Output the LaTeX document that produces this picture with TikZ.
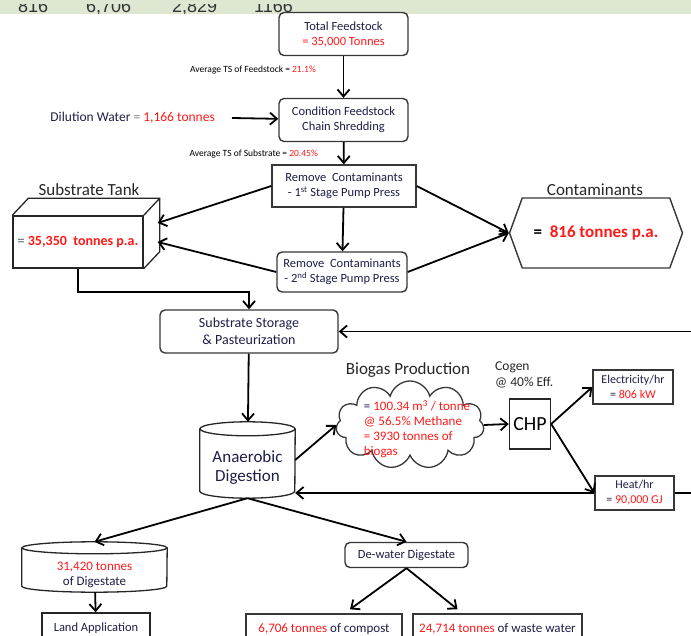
\documentclass[tikz,border=0pt]{standalone}
\usepackage{fontspec}
\setmainfont{Carlito}
\newfontfamily\cifras{Liberation Sans}
\usetikzlibrary{positioning,arrows.meta,shapes.geometric,shapes.symbols,calc}
\definecolor{rojo}{RGB}{255,25,25}
\definecolor{tinta}{RGB}{30,30,70}
\definecolor{borde}{RGB}{55,55,55}
\definecolor{franja}{RGB}{222,231,210}

\begin{document}
\begin{tikzpicture}[x=1pt, y=-1pt,
  caja/.style={draw=borde, line width=1.4pt, rounded corners=5pt, fill=white,
    align=center, text=tinta, inner sep=0pt,
    font=\fontsize{12.5}{15}\selectfont},
  cajarecta/.style={caja, rounded corners=0pt},
  titulo/.style={font=\fontsize{17}{20}\selectfont, text=black!85},
  nota/.style={font=\fontsize{9.5}{11}\selectfont, text=black, anchor=east,
    inner sep=0pt},
  cil/.style={draw=black!85, line width=1.3pt},
  flecha/.style={line width=1.8pt,
    -{Straight Barb[length=7pt, width=12pt, line width=1.8pt]}},
]
  \useasboundingbox (0,0) rectangle (691,636);
  \clip (0,0) rectangle (691,636);
  % Franja superior
  \fill[franja] (0,0) rectangle (691,14);
  \begin{scope}
    \clip (0,4.5) rectangle (691,14);
    \foreach \x/\cifra in {18/816, 86/{6,706}, 172/{2,829}, 254/1166}
      \node[anchor=base west, inner sep=0pt, text=black!80,
        font=\cifras\fontsize{18}{18}\selectfont] (c\x) at (\x,13) {\cifra};
  \end{scope}
  % Alimentacion
  \node[caja, minimum width=129, minimum height=43] (total) at (343.5,34)
    {Total Feedstock\\\textcolor{rojo}{= 35,000 Tonnes}};
  \node[caja, minimum width=129, minimum height=43] (condicion) at (343.5,120)
    {Condition Feedstock\\Chain Shredding};
  \node[nota] (tsalim) at (316,70)
    {Average TS of Feedstock = \textcolor{rojo}{21.1\%}};
  \node[nota] (tssust) at (318,154)
    {Average TS of Substrate = \textcolor{rojo}{20.45\%}};
  \node[anchor=east, inner sep=0pt, text=tinta,
    font=\fontsize{13.5}{16}\selectfont] (dilucion) at (215,118)
    {Dilution Water \textcolor{gray}{=} \textcolor{rojo}{1,166 tonnes}};
  % Separacion de contaminantes
  \node[cajarecta, minimum width=144, minimum height=42] (quitar1) at (344,186)
    {Remove\ \ Contaminants\\- 1\textsuperscript{st} Stage Pump Press};
  \node[caja, minimum width=130, minimum height=40] (quitar2) at (342,272)
    {Remove\ \ Contaminants\\- 2\textsuperscript{nd} Stage Pump Press};
  % Tanque de sustrato
  \node[cajarecta, draw=black!85, text=rojo, minimum width=130,
    minimum height=52, font=\bfseries\fontsize{14}{16}\selectfont]
    (tanque) at (78,242) {\textcolor{gray}{=} 35,350\ \ tonnes p.a.};
  \draw[cil] (tanque.north west) -- ++(16pt,17pt)
    -- ($(tanque.north east)+(16pt,17pt)$)
    -- ($(tanque.south east)+(16pt,17pt)$) -- (tanque.south east);
  \draw[cil] (tanque.north east) -- ++(16pt,17pt);
  \coordinate (lado1) at ([shift={(14pt,19pt)}]tanque.east);
  \coordinate (lado2) at ([shift={(14pt,0pt)}]tanque.east);
  \node[titulo] (tittanque) at (89,190) {Substrate Tank};
  % Contaminantes
  \node[signal, signal to=west and east, signal pointer angle=140,
    draw=borde, line width=1.4pt, minimum width=173, minimum height=70,
    inner sep=0pt, font=\bfseries\fontsize{17}{20}\selectfont]
    (contam) at (596,233) {=\ \ \textcolor{rojo}{816 tonnes p.a.}};
  \node[titulo] (titcontam) at (595,190) {Contaminants};
  % Almacenamiento y digestion
  \node[caja, minimum width=178, minimum height=43,
    font=\fontsize{14}{17}\selectfont] (almacen) at (249,331.5)
    {Substrate Storage\\\& Pasteurization};
  \node[align=center, text=tinta, inner sep=0pt, minimum width=95,
    minimum height=76, font=\fontsize{17}{19}\selectfont]
    (digestor) at (247.5,460) {\rule{0pt}{26pt}Anaerobic\\Digestion};
  \draw[cil] ([yshift=-7pt]digestor.north) ellipse [x radius=47.5pt, y radius=7pt];
  \draw[cil] ([yshift=-7pt]digestor.north west)
    -- ([yshift=7pt]digestor.south west)
    arc [start angle=180, end angle=360, x radius=47.5pt, y radius=7pt]
    -- ([yshift=-7pt]digestor.north east);
  % Biogas y cogeneracion
  \node[cloud, cloud puffs=11, cloud ignores aspect, draw=borde,
    line width=1.3pt, minimum width=148, minimum height=88] (nube) at (410,425) {};
  \node[align=left, inner sep=0pt, text=rojo,
    font=\fontsize{13}{15}\selectfont] (nubetexto) at (417,429)
    {\textcolor{tinta}{=} 100.34 m\textsuperscript{3} / tonne\\@ 56.5\% Methane\\
     = 3930 tonnes of\\biogas};
  \node[titulo] (titbiogas) at (408,370) {Biogas Production};
  \node[cajarecta, draw=black!85, text=black, minimum width=41,
    minimum height=50, font=\fontsize{20}{22}\selectfont] (chp) at (530,424) {CHP};
  \node[anchor=north west, align=left, inner sep=0pt, text=black!85,
    font=\fontsize{13.5}{16}\selectfont] (cogen) at (495,362)
    {Cogen\\@ 40\% Eff.};
  \node[cajarecta, minimum width=80, minimum height=34,
    font=\fontsize{12}{15}\selectfont] (elec) at (633,387)
    {Electricity/hr\\= \textcolor{rojo}{806 kW}};
  \node[cajarecta, minimum width=79, minimum height=34,
    font=\fontsize{12}{15}\selectfont] (calor) at (634.5,493)
    {Heat/hr\\= \textcolor{rojo}{90,000 GJ}};
  % Digestato
  \node[align=center, text=tinta, inner sep=0pt, minimum width=145,
    minimum height=50, font=\fontsize{13}{15}\selectfont] (digestato) at (94.5,567)
    {\rule{0pt}{24pt}\textcolor{rojo}{31,420 tonnes}\\of Digestate};
  \draw[cil] ([yshift=-6pt]digestato.north) ellipse [x radius=72.5pt, y radius=6pt];
  \draw[cil] ([yshift=-6pt]digestato.north west)
    -- ([yshift=6pt]digestato.south west)
    arc [start angle=180, end angle=360, x radius=72.5pt, y radius=6pt]
    -- ([yshift=-6pt]digestato.north east);
  \node[cajarecta, draw=black!85, minimum width=108, minimum height=30]
    (tierra) at (96,628) {Land Application};
  \node[caja, minimum width=123, minimum height=25] (deshidratar) at (406.5,555)
    {De-water Digestate};
  \node[cajarecta, minimum width=156, minimum height=30,
    font=\fontsize{13}{15}\selectfont] (compost) at (324,629)
    {\textcolor{rojo}{6,706 tonnes} of compost};
  \node[cajarecta, minimum width=169, minimum height=30,
    font=\fontsize{13}{15}\selectfont] (agua) at (497.5,629)
    {\textcolor{rojo}{24,714 tonnes} of waste water};
  % Flechas
  \draw[flecha] (total) -- (condicion);
  \draw[flecha] ([xshift=17pt]dilucion.east) -- (condicion);
  \draw[flecha] (condicion) -- (quitar1);
  \draw[flecha] (quitar1) -- (quitar2);
  \draw[flecha] (quitar1.west) -- (lado1);
  \draw[flecha] (quitar2.west) -- (lado2);
  \draw[flecha] (quitar1.east) -- (contam.west);
  \draw[flecha] (quitar2.east) -- (contam.west);
  \draw[flecha] (tanque.south) -- ++(0,23) -| (almacen.north);
  \draw[flecha] (calor.east) -- ++(40,0) |- (almacen.east);
  \draw[flecha] (almacen) -- (digestor);
  \draw[flecha] (digestor.east) -- (nube.west);
  \draw[flecha] (nube.east) -- (chp.west);
  \draw[flecha] (chp.east) -- (elec.west);
  \draw[flecha] (chp.east) -- (calor.west);
  \draw[flecha] (calor.west) -- (calor.west -| digestor.east);
  \draw[flecha] (digestor.south) -- (digestato.north);
  \draw[flecha] (digestor.south) -- (deshidratar.north);
  \draw[flecha] (digestato) -- (tierra);
  \draw[flecha] (deshidratar.south) -- ([xshift=26pt,yshift=4pt]compost.north);
  \draw[flecha] (deshidratar.south) -- ([xshift=-40pt,yshift=4pt]agua.north);
\end{tikzpicture}
\end{document}
